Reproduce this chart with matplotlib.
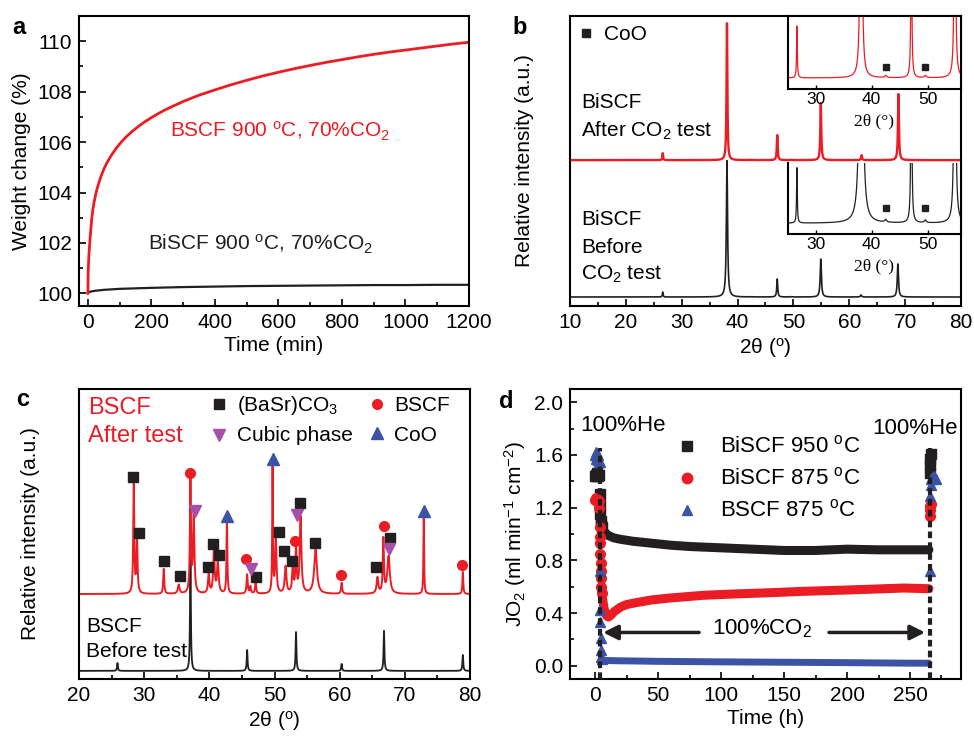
import numpy as np
import matplotlib
matplotlib.use("Agg")
import matplotlib.pyplot as plt
from matplotlib.ticker import MultipleLocator

plt.rcParams['font.family'] = ['Liberation Sans', 'DejaVu Sans']
plt.rcParams['mathtext.fontset'] = 'custom'
plt.rcParams['mathtext.rm'] = 'Liberation Sans'
plt.rcParams['mathtext.it'] = 'Liberation Sans:italic'
plt.rcParams['mathtext.bf'] = 'Liberation Sans:bold'
plt.rcParams['font.size'] = 15
plt.rcParams['axes.linewidth'] = 1.5

RED = '#ec1c24'
BLACK = '#231f20'
BLUE = '#3a53a4'
PURPLE = '#a550a8'

# ---- (a) TGA in 70% CO2 at 900 C ----
bscf_tga_t = [0, 1, 3, 5, 8, 12, 16, 20, 25, 30, 40, 50, 60, 75, 90, 105, 120, 140,
              160, 180, 200, 230, 260, 300, 350, 400, 450, 500, 550, 600, 650, 700,
              750, 800, 850, 900, 950, 1000, 1050, 1100, 1150, 1200]
bscf_tga_w = [100.0, 100.9, 101.45, 101.85, 102.35, 102.95, 103.35, 103.65, 103.95,
              104.2, 104.6, 104.92, 105.18, 105.5, 105.77, 106.0, 106.2, 106.43,
              106.63, 106.81, 106.97, 107.19, 107.38, 107.61, 107.86, 108.07, 108.27,
              108.45, 108.62, 108.77, 108.91, 109.04, 109.16, 109.27, 109.38, 109.48,
              109.57, 109.65, 109.73, 109.81, 109.89, 109.96]
biscf_tga_t = [0, 5, 20, 50, 100, 200, 300, 400, 500, 600, 700, 800, 900, 1000, 1100, 1200]
biscf_tga_w = [100.02, 100.06, 100.1, 100.14, 100.18, 100.22, 100.25, 100.27, 100.29,
               100.3, 100.31, 100.32, 100.33, 100.33, 100.34, 100.34]

# ---- (b) XRD of BiSCF, peaks: position, height, width ----
biscf_after_pos = [26.6, 38.1, 42.5, 47.1, 49.6, 54.9, 62.2, 68.8]
biscf_after_h = [2.4, 47.2, 0.1, 8.6, 0.1, 19.7, 1.7, 22.8]
biscf_after_w = [0.15, 0.18, 0.4, 0.18, 0.4, 0.2, 0.2, 0.2]
biscf_after_base = 50.3
biscf_before_pos = [26.6, 38.1, 42.5, 47.1, 49.6, 54.9, 62.1, 68.7]
biscf_before_h = [1.7, 47.0, 0.08, 6.2, 0.08, 13.1, 0.7, 11.4]
biscf_before_w = [0.15, 0.25, 0.4, 0.2, 0.4, 0.25, 0.25, 0.25]
biscf_before_base = 3.1
coo_inset_pos = [42.5, 49.6]

# ---- (c) XRD of BSCF ----
bscf_after_pos = [28.4, 28.9, 33.0, 35.3, 37.1, 37.6, 39.9, 40.7, 41.3, 42.7, 45.8,
                  46.3, 47.1, 49.7, 50.2, 51.7, 52.8, 53.3, 54.0, 56.3, 60.3, 65.8,
                  66.7, 67.5, 72.9, 78.9]
bscf_after_h = [38.3, 18.6, 8.6, 3.1, 40.0, 26.6, 6.6, 15.2, 10.7, 25.5, 6.6, 2.4,
                3.8, 43.5, 18.6, 9.3, 9.0, 16.2, 26.2, 15.2, 3.8, 5.5, 18.6, 12.8,
                27.3, 7.6]
bscf_after_w = [0.18, 0.2, 0.18, 0.3, 0.18, 0.25, 0.25, 0.25, 0.3, 0.15, 0.2, 0.2,
                0.2, 0.12, 0.25, 0.3, 0.25, 0.2, 0.3, 0.5, 0.2, 0.3, 0.2, 0.45,
                0.12, 0.15]
bscf_after_base = 29.3
bscf_before_pos = [25.9, 37.1, 45.8, 53.3, 60.3, 66.8, 78.9]
bscf_before_h = [2.7, 39.2, 7.2, 13.4, 2.4, 13.8, 5.5]
bscf_before_w = [0.15, 0.15, 0.15, 0.15, 0.15, 0.15, 0.15]
bscf_before_base = 2.8

carbonate_x = [28.36, 29.28, 33.08, 35.44, 39.74, 40.51, 41.54, 47.23, 50.67, 51.44,
               52.67, 53.90, 56.15, 65.59, 67.69]
carbonate_y = [69.8, 50.2, 40.6, 35.5, 38.5, 46.6, 42.6, 35.3, 50.6, 44.0, 40.6,
               60.6, 46.8, 38.5, 48.5]
bscf_x = [36.97, 45.69, 53.08, 60.21, 66.82, 78.82]
bscf_y = [71.1, 41.3, 47.7, 36.0, 52.8, 39.3]
cubic_x = [37.74, 46.36, 53.44, 67.54]
cubic_y = [57.9, 37.9, 56.4, 44.7]
coo_x = [49.74, 42.67, 72.87]
coo_y = [75.7, 56.3, 58.0]

# ---- (d) oxygen permeation flux ----
biscf950_t = [0, 0.5, 1, 1.5, 2, 2.5, 3, 3.6, 3.8, 4.0, 4.3, 4.7, 5.2, 6, 8, 10, 15,
              20, 30, 40, 50, 60, 75, 100, 125, 150, 175, 200, 225, 250, 265]
biscf950_j = [1.44, 1.45, 1.44, 1.46, 1.45, 1.44, 1.45, 1.30, 1.22, 1.15, 1.10, 1.07,
              1.05, 1.03, 1.01, 0.99, 0.97, 0.96, 0.945, 0.935, 0.925, 0.915, 0.905,
              0.895, 0.885, 0.875, 0.875, 0.885, 0.88, 0.88, 0.88]
biscf950_he_t = [265.6, 265.9, 266.2, 266.5]
biscf950_he_j = [1.46, 1.52, 1.57, 1.61]
biscf875_t = [0, 0.5, 1, 1.5, 2, 2.5, 3, 3.4, 3.6, 3.8, 4.0, 4.2, 4.4, 4.6, 4.8, 5.0,
              5.5, 6, 7, 8, 9, 10.5, 12, 15, 20, 25, 33, 45, 60, 86, 110, 140, 165,
              200, 230, 245, 265]
biscf875_j = [1.26, 1.26, 1.27, 1.26, 1.25, 1.26, 1.25, 1.2, 1.05, 0.98, 0.93, 0.85,
              0.78, 0.72, 0.67, 0.6, 0.55, 0.5, 0.44, 0.4, 0.38, 0.37, 0.38, 0.41,
              0.445, 0.465, 0.48, 0.5, 0.515, 0.535, 0.545, 0.555, 0.565, 0.575,
              0.585, 0.59, 0.585]
biscf875_he_t = [265.8, 266.0, 266.2, 266.4]
biscf875_he_j = [1.14, 1.18, 1.21, 1.23]
bscf875_t = [0, 0.5, 1, 1.5, 2, 2.5, 3, 3.5, 3.7, 3.9, 4.1, 4.3, 4.5, 4.8, 5.2, 6, 8,
             10, 20, 50, 100, 150, 200, 250, 265]
bscf875_j = [1.6, 1.57, 1.62, 1.58, 1.56, 1.6, 1.55, 1.55, 0.72, 0.42, 0.33, 0.21,
             0.12, 0.07, 0.05, 0.045, 0.04, 0.04, 0.038, 0.034, 0.03, 0.027, 0.024,
             0.02, 0.02]
bscf875_he_t = [265.8, 266.0, 266.3, 266.6, 267.5, 269, 271]
bscf875_he_j = [0.72, 1.29, 1.37, 1.42, 1.43, 1.44, 1.42]
co2_start, co2_end = 3.6, 266.0

W, H = 974, 738


def box(left, top, right, bottom):
    return [left / W, 1 - bottom / H, (right - left) / W, (bottom - top) / H]


def pattern(x, pos, h, w, base):
    y = np.full_like(x, base, dtype=float)
    for c, a, g in zip(pos, h, w):
        y += a / (1 + ((x - c) / (g / 2)) ** 2)
    return y


def style_ticks(ax):
    ax.tick_params(which='both', direction='in', top=False, right=False, width=1.2)
    ax.tick_params(which='major', length=5, pad=5)
    ax.tick_params(which='minor', length=3)


fig = plt.figure(figsize=(W / 100, H / 100), dpi=100)

# (a)
axa = fig.add_axes(box(79, 16, 469, 306))
axa.plot(biscf_tga_t, biscf_tga_w, color=BLACK, lw=1.6)
axa.plot(bscf_tga_t, bscf_tga_w, color=RED, lw=2)
axa.set_xlim(-28, 1200)
axa.set_ylim(99.5, 111)
axa.xaxis.set_major_locator(MultipleLocator(200))
axa.xaxis.set_minor_locator(MultipleLocator(100))
axa.yaxis.set_major_locator(MultipleLocator(2))
axa.yaxis.set_minor_locator(MultipleLocator(1))
style_ticks(axa)
axa.set_xlabel('Time (min)', labelpad=3)
axa.set_ylabel('Weight change (%)', labelpad=4)
axa.text(258, 106.2, 'BSCF 900 $^{\\rm o}$C, 70%CO$_2$', color=RED)
axa.text(189, 101.7, 'BiSCF 900 $^{\\rm o}$C, 70%CO$_2$', color=BLACK)

# (b)
x_b = np.linspace(10, 80, 7001)
axb = fig.add_axes(box(570, 16, 961, 306))
axb.plot(x_b, pattern(x_b, biscf_before_pos, biscf_before_h, biscf_before_w,
                      biscf_before_base), color=BLACK, lw=1.2)
axb.plot(x_b, pattern(x_b, biscf_after_pos, biscf_after_h, biscf_after_w,
                      biscf_after_base), color=RED, lw=1.7)
axb.set_xlim(10, 80)
axb.set_ylim(0, 100)
axb.set_yticks([])
axb.xaxis.set_major_locator(MultipleLocator(10))
axb.xaxis.set_minor_locator(MultipleLocator(5))
style_ticks(axb)
axb.set_xlabel('2θ ($^{\\rm o}$)', labelpad=3)
axb.set_ylabel('Relative intensity (a.u.)', labelpad=26)
axb.plot([12.9], [94.1], 's', color=BLACK, ms=6)
axb.text(16.1, 91.7, 'CoO')
axb.text(12.0, 68.3, 'BiSCF')
axb.text(12.0, 58.3, 'After CO$_2$ test')
axb.text(12.0, 27.9, 'BiSCF')
axb.text(12.0, 18.3, 'Before')
axb.text(12.0, 9.0, 'CO$_2$ test')

x_in = np.linspace(25, 56, 3101)
insets = [
    (box(788, 16, 961, 89), biscf_after_pos, biscf_after_h, biscf_after_w, RED,
     (-0.51, 2.86), 0.3, True),
    (box(788, 163, 961, 234), biscf_before_pos, biscf_before_h, biscf_before_w, BLACK,
     (-0.33, 1.85), 0.37, False),
]
for rect, pos, h, w, col, ylim, mark_frac, top_spine in insets:
    axi = fig.add_axes(rect)
    axi.plot(x_in, pattern(x_in, pos, h, w, 0.0), color=col, lw=0.9)
    axi.set_xlim(25, 56)
    axi.set_ylim(*ylim)
    axi.set_yticks([])
    axi.set_xticks([30, 40, 50])
    axi.tick_params(direction='in', length=3, width=1, pad=2, labelsize=12.5)
    axi.spines['top'].set_visible(top_spine)
    axi.set_xlabel('2θ (°)', family=['Liberation Serif', 'DejaVu Serif'],
                   fontsize=12.5, labelpad=5)
    mark_y = ylim[0] + (ylim[1] - ylim[0]) * mark_frac
    axi.plot(coo_inset_pos, [mark_y] * len(coo_inset_pos), 's', color=BLACK, ms=5)

# (c)
x_c = np.linspace(20, 80, 6001)
axc = fig.add_axes(box(79, 389, 470, 679))
axc.plot(x_c, pattern(x_c, bscf_before_pos, bscf_before_h, bscf_before_w,
                      bscf_before_base), color=BLACK, lw=1.3)
axc.plot(x_c, pattern(x_c, bscf_after_pos, bscf_after_h, bscf_after_w,
                      bscf_after_base), color=RED, lw=1.4)
axc.plot(carbonate_x, carbonate_y, 's', color=BLACK, ms=7)
axc.plot(bscf_x, bscf_y, 'o', color=RED, ms=7)
axc.plot(cubic_x, cubic_y, 'v', color=PURPLE, ms=8)
axc.plot(coo_x, coo_y, '^', color=BLUE, ms=8)
axc.set_xlim(20, 80)
axc.set_ylim(0, 100)
axc.set_yticks([])
axc.xaxis.set_major_locator(MultipleLocator(10))
axc.xaxis.set_minor_locator(MultipleLocator(5))
style_ticks(axc)
axc.set_xlabel('2θ ($^{\\rm o}$)', labelpad=3)
axc.set_ylabel('Relative intensity (a.u.)', labelpad=28)
axc.text(21.4, 91.4, 'BSCF', color=RED, fontsize=17)
axc.text(21.4, 81.8, 'After test', color=RED, fontsize=17)
axc.text(21.1, 16.3, 'BSCF')
axc.text(21.1, 7.7, 'Before test')
axc.plot([41.5], [94.8], 's', color=BLACK, ms=7)
axc.text(44.3, 92.5, '(BaSr)CO$_3$')
axc.plot([41.5], [84.1], 'v', color=PURPLE, ms=8)
axc.text(44.3, 82.2, 'Cubic phase')
axc.plot([65.7], [94.8], 'o', color=RED, ms=7)
axc.text(68.3, 92.5, 'BSCF')
axc.plot([65.8], [84.8], '^', color=BLUE, ms=8)
axc.text(68.3, 82.2, 'CoO')

# (d)
axd = fig.add_axes(box(570, 389, 961, 679))
series = [
    (biscf950_t, biscf950_j, biscf950_he_t, biscf950_he_j, BLACK, 's', 6.5),
    (biscf875_t, biscf875_j, biscf875_he_t, biscf875_he_j, RED, 'o', 6.5),
    (bscf875_t, bscf875_j, bscf875_he_t, bscf875_he_j, BLUE, '^', 5),
]
for t, j, th, jh, col, mk, lw in series:
    t = np.asarray(t)
    j = np.asarray(j)
    # dense logging during the CO2 period reads as a solid band
    band = t >= 5
    axd.plot(t[band], j[band], color=col, lw=lw, solid_capstyle='round',
             solid_joinstyle='round')
    early = t < 6
    axd.plot(t[early], j[early], mk, color=col, ms=7, mec=col)
    axd.plot(th, jh, mk, color=col, ms=7, mec=col)
for tx in (co2_start, co2_end):
    axd.plot([tx, tx], [-0.1, 1.65], color=BLACK, lw=3, ls=(0, (1.6, 1.0)), zorder=5)
axd.set_xlim(-20, 290.5)
axd.set_ylim(-0.1, 2.1)
axd.xaxis.set_major_locator(MultipleLocator(50))
axd.xaxis.set_minor_locator(MultipleLocator(25))
axd.yaxis.set_major_locator(MultipleLocator(0.4))
axd.yaxis.set_minor_locator(MultipleLocator(0.2))
axd.yaxis.set_major_formatter(plt.FormatStrFormatter('%.1f'))
style_ticks(axd)
axd.set_xlabel('Time (h)', labelpad=3)
axd.set_ylabel('JO$_2$ (ml min$^{-1}$ cm$^{-2}$)', labelpad=4)
axd.text(-11.9, 1.824, '100%He', va='center', fontsize=16)
axd.text(220.0, 1.80, '100%He', va='center', fontsize=16)
axd.text(132.5, 0.283, '100%CO$_2$', ha='center', va='center', fontsize=16)
arrow = dict(arrowstyle='-|>', lw=2.5, color=BLACK, mutation_scale=22, shrinkA=0, shrinkB=0)
axd.annotate('', xy=(6.3, 0.253), xytext=(82.5, 0.253), arrowprops=arrow)
axd.annotate('', xy=(262, 0.253), xytext=(185.7, 0.253), arrowprops=arrow)
legend_rows = [(0.803, BLACK, 's', 'BiSCF 950 $^{\\rm o}$C'),
               (0.693, RED, 'o', 'BiSCF 875 $^{\\rm o}$C'),
               (0.583, BLUE, '^', 'BSCF 875 $^{\\rm o}$C')]
for yy, col, mk, lab in legend_rows:
    axd.plot([0.299], [yy], mk, color=col, ms=7.5, transform=axd.transAxes)
    axd.text(0.384, yy, lab, va='center', fontsize=16, transform=axd.transAxes)

for letter, xx, yy in [('a', 12, 16), ('b', 512, 16), ('c', 16, 388), ('d', 499, 390)]:
    fig.text(xx / W, 1 - yy / H, letter, fontsize=17, fontweight='bold', va='top')

fig.savefig('out.png', dpi=100)
